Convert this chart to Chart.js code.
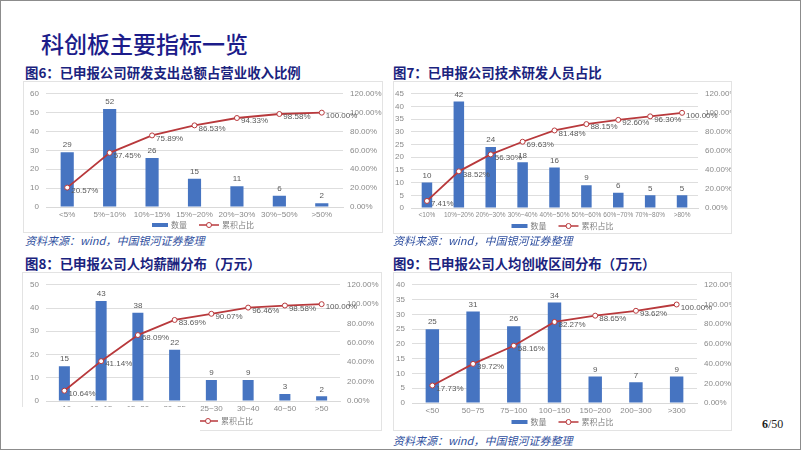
<!DOCTYPE html>
<html>
<head>
<meta charset="utf-8">
<script src="https://cdn.jsdelivr.net/npm/chart.js@4.4.1/dist/chart.umd.min.js"></script>
<style>
  body { margin: 0; background: #fff; }
  #slide { position: relative; width: 802px; height: 451px; overflow: hidden; font-family: "Noto Sans CJK SC", sans-serif; }
  .frame { position: absolute; left: 0; top: 0; width: 801px; height: 450px; border: 1px solid #8c8c8c; box-sizing: border-box; }
  .title { position: absolute; left: 41px; top: 28px; font-size: 23px; line-height: 30px; color: #1c1c8a; font-weight: 500; white-space: nowrap; }
  .sub { position: absolute; font-size: 13.4px; line-height: 16px; font-weight: 700; color: #1a237e; white-space: nowrap; }
  .src { position: absolute; font-size: 11px; line-height: 14px; font-style: italic; color: #3050a0; white-space: nowrap; }
  .panel { position: absolute; border: 1px solid #e3e3e3; box-sizing: border-box; }
  .panel canvas { position: absolute; left: 0; top: 0; }
  .page { position: absolute; left: 762px; top: 417px; font-family: "Liberation Serif", serif; font-size: 12px; color: #222; }
  .mask { position: absolute; left: 16px; top: 407px; width: 184px; height: 32px; background: #fff; }
</style>
</head>
<body>
<div id="slide">
  <div class="frame"></div>
  <div class="title">科创板主要指标一览</div>

  <div class="sub" style="left:25px;top:64px;">图6：已申报公司研发支出总额占营业收入比例</div>
  <div class="sub" style="left:393px;top:64px;">图7：已申报公司技术研发人员占比</div>
  <div class="sub" style="left:25px;top:255px;">图8：已申报公司人均薪酬分布（万元）</div>
  <div class="sub" style="left:393px;top:255px;">图9：已申报公司人均创收区间分布（万元）</div>

  <div class="panel" style="left:23px;top:81px;width:360px;height:152px;"><canvas id="c6"></canvas></div>
  <div class="panel" style="left:393px;top:81px;width:339px;height:153px;"><canvas id="c7"></canvas></div>
  <div class="panel" style="left:22px;top:272px;width:360px;height:159px;"><canvas id="c8"></canvas></div>
  <div class="panel" style="left:393px;top:272px;width:339px;height:159px;"><canvas id="c9"></canvas></div>
  <div class="mask"></div>

  <div class="src" style="left:25px;top:233px;">资料来源：wind，中国银河证券整理</div>
  <div class="src" style="left:393px;top:233px;">资料来源：wind，中国银河证券整理</div>
  <div class="src" style="left:393px;top:433px;">资料来源：wind，中国银河证券整理</div>
  <div class="page"><b>6</b>/50</div>
</div>

<script>
// ---- data -------------------------------------------------------------------
const fig6Cats   = ['<5%', '5%~10%', '10%~15%', '15%~20%', '20%~30%', '30%~50%', '>50%'];
const fig6Counts = [29, 52, 26, 15, 11, 6, 2];
const fig6Cum    = [20.57, 57.45, 75.89, 86.53, 94.33, 98.58, 100.00];

const fig7Cats   = ['<10%', '10%~20%', '20%~30%', '30%~40%', '40%~50%', '50%~60%', '60%~70%', '70%~80%', '>80%'];
const fig7Counts = [10, 42, 24, 18, 16, 9, 6, 5, 5];
const fig7Cum    = [7.41, 38.52, 56.30, 69.63, 81.48, 88.15, 92.60, 96.30, 100.00];

const fig8Cats   = ['<10', '10~15', '15~20', '20~25', '25~30', '30~40', '40~50', '>50'];
const fig8Counts = [15, 43, 38, 22, 9, 9, 3, 2];
const fig8Cum    = [10.64, 41.14, 68.09, 83.69, 90.07, 96.46, 98.58, 100.00];

const fig9Cats   = ['<50', '50~75', '75~100', '100~150', '150~200', '200~300', '>300'];
const fig9Counts = [25, 31, 26, 34, 9, 7, 9];
const fig9Cum    = [17.73, 39.72, 58.16, 82.27, 88.65, 93.62, 100.00];

const SERIES_NAMES = ['数量', '累积占比'];

const BAR_COLOR  = '#4674c1';
const LINE_COLOR = '#b8393c';
const TICK_COLOR = '#8a8a8a';
const TICK_FONT  = { family: '"Liberation Sans", sans-serif', size: 8 };

// ---- value labels + legend drawn straight on the canvas ----------------------
const decorPlugin = {
  id: 'decor',
  afterDatasetsDraw(chart) {
    const ctx = chart.ctx;
    ctx.save();
    ctx.font = '8px "Liberation Sans", sans-serif';
    ctx.fillStyle = '#595959';
    ctx.textAlign = 'center';
    ctx.textBaseline = 'bottom';
    chart.getDatasetMeta(1).data.forEach((b, i) => {
      ctx.fillText(String(chart.data.datasets[1].data[i]), b.x, b.y - 3);
    });
    ctx.textAlign = 'left';
    ctx.textBaseline = 'middle';
    chart.getDatasetMeta(0).data.forEach((p, i) => {
      ctx.fillText(chart.data.datasets[0].data[i].toFixed(2) + '%', p.x + 4, p.y + 3);
    });
    ctx.restore();
  },
  afterDraw(chart) {
    const ctx = chart.ctx;
    const y = chart.chartArea.bottom + chart.options.plugins.decor.legendGap;
    ctx.save();
    ctx.font = '8px "Noto Sans CJK SC", sans-serif';
    const w0 = ctx.measureText(SERIES_NAMES[0]).width;
    const w1 = ctx.measureText(SERIES_NAMES[1]).width;
    const total = 16 + 3 + w0 + 12 + 20 + 3 + w1;
    let x = chart.width / 2 - total / 2;
    ctx.fillStyle = BAR_COLOR;
    ctx.fillRect(x, y - 2, 16, 4);
    x += 19;
    ctx.fillStyle = '#7f7f7f';
    ctx.textBaseline = 'middle';
    ctx.fillText(SERIES_NAMES[0], x, y);
    x += w0 + 12;
    ctx.strokeStyle = LINE_COLOR;
    ctx.lineWidth = 1.5;
    ctx.beginPath(); ctx.moveTo(x, y); ctx.lineTo(x + 20, y); ctx.stroke();
    ctx.fillStyle = '#fff';
    ctx.lineWidth = 1;
    ctx.beginPath(); ctx.arc(x + 10, y, 2.5, 0, Math.PI * 2); ctx.fill(); ctx.stroke();
    x += 23;
    ctx.fillStyle = '#7f7f7f';
    ctx.fillText(SERIES_NAMES[1], x, y);
    ctx.restore();
  },
};

function makeChart(id, cats, counts, cum, yMax, box) {
  const canvas = document.getElementById(id);
  const panel = canvas.parentElement;
  canvas.width = panel.offsetWidth - 2;
  canvas.height = panel.offsetHeight - 2;
  return new Chart(canvas.getContext('2d'), {
    data: {
      labels: cats,
      datasets: [
        {
          type: 'line', label: SERIES_NAMES[1], data: cum, yAxisID: 'y1', order: 1,
          borderColor: LINE_COLOR, borderWidth: 1.8, tension: 0,
          pointRadius: 2.5, pointBorderWidth: 1, pointBackgroundColor: '#fff', pointBorderColor: LINE_COLOR,
        },
        {
          type: 'bar', label: SERIES_NAMES[0], data: counts, yAxisID: 'y', order: 2,
          backgroundColor: BAR_COLOR, categoryPercentage: 1.0, barPercentage: box.bar,
        },
      ],
    },
    options: {
      responsive: false,
      animation: false,
      layout: { padding: { top: box.top, left: 0, right: 0, bottom: 0 } },
      plugins: { legend: { display: false }, tooltip: { enabled: false }, decor: { legendGap: box.legend } },
      scales: {
        x: {
          grid: { display: false, drawTicks: false },
          border: { color: '#d9d9d9' },
          ticks: { color: TICK_COLOR, font: { ...TICK_FONT, size: box.xFont }, padding: 3, autoSkip: false, maxRotation: 0 },
          afterFit(s) { s.height = box.bottom; },
        },
        y: {
          position: 'left', min: 0, max: yMax,
          grid: { color: '#dedede', drawTicks: false },
          border: { display: false },
          ticks: { stepSize: 5 * Math.ceil(yMax / 50), color: TICK_COLOR, font: TICK_FONT, padding: 7 },
          afterFit(s) { s.width = box.left; },
        },
        y1: {
          position: 'right', min: 0, max: 120,
          grid: { display: false, drawTicks: false },
          border: { display: false },
          ticks: { stepSize: 20, color: TICK_COLOR, font: TICK_FONT, padding: 7, callback: v => v.toFixed(2) + '%' },
          afterFit(s) { s.width = box.right; },
        },
      },
    },
    plugins: [decorPlugin],
  });
}

makeChart('c6', fig6Cats, fig6Counts, fig6Cum, 60, { left: 22, right: 39, top: 5, bottom: 25, bar: 0.31, legend: 18, xFont: 8 });
makeChart('c7', fig7Cats, fig7Counts, fig7Cum, 45, { left: 17, right: 33, top: 5, bottom: 25, bar: 0.33, legend: 18, xFont: 6.5 });
makeChart('c8', fig8Cats, fig8Counts, fig8Cum, 50, { left: 23, right: 41, top: 5, bottom: 29, bar: 0.30, legend: 20, xFont: 8 });
makeChart('c9', fig9Cats, fig9Counts, fig9Cum, 40, { left: 18, right: 34, top: 5, bottom: 27, bar: 0.33, legend: 19, xFont: 8 });
</script>
</body>
</html>
